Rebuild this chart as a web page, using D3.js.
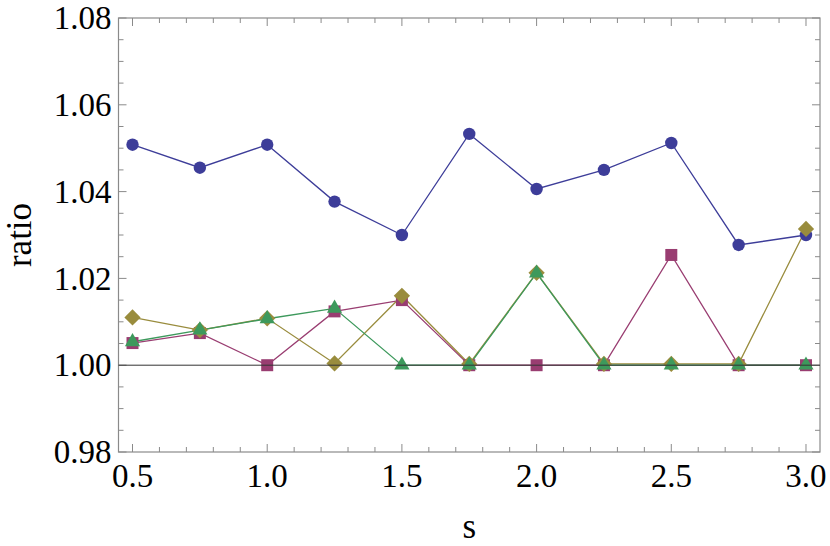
<!DOCTYPE html>
<html>
<head>
<meta charset="utf-8">
<script src="https://cdn.jsdelivr.net/npm/d3@7"></script>
<style>
  body { margin: 0; background: #fff; }
  svg text { font-family: "Liberation Serif", "Times New Roman", Times, "DejaVu Serif", serif; fill: #000; }
</style>
</head>
<body>
<div id="chart"></div>
<script>
// s values (x) and the four ratio series
const sValues = [0.5, 0.75, 1.0, 1.25, 1.5, 1.75, 2.0, 2.25, 2.5, 2.75, 3.0];
const blueRatio    = [1.0508, 1.0455, 1.0508, 1.0377, 1.0300, 1.0533, 1.0406, 1.0450, 1.0512, 1.0277, 1.0300];
const magentaRatio = [1.0051, 1.0074, 1.0000, 1.0124, 1.0150, 1.0000, 1.0000, 1.0000, 1.0254, 1.0000, 1.0000];
const goldRatio    = [1.0110, 1.0081, 1.0108, 1.0004, 1.0160, 1.0003, 1.0213, 1.0003, 1.0003, 1.0003, 1.0314];
const greenRatio   = [1.0054, 1.0081, 1.0107, 1.0131, 1.0000, 1.0000, 1.0212, 1.0000, 1.0000, 1.0000, 1.0000];
const xTicks = [0.5, 1.0, 1.5, 2.0, 2.5, 3.0];
const yTicks = [0.98, 1.00, 1.02, 1.04, 1.06, 1.08];

const series = [
  {values: blueRatio,    color: "#3d3d99", shape: "circle"},
  {values: magentaRatio, color: "#993d71", shape: "square"},
  {values: goldRatio,    color: "#998c3d", shape: "diamond"},
  {values: greenRatio,   color: "#3d995c", shape: "triangle"}
];

const width = 830, height = 546;
const margin = {top: 18, right: 10, bottom: 94, left: 118.5};
const fontFam = "'Liberation Serif', 'Times New Roman', Times, 'DejaVu Serif', serif";

const svg = d3.select("#chart").append("svg")
    .attr("width", width)
    .attr("height", height);

const x = d3.scaleLinear().domain([0.448, 3.052]).range([margin.left, width - margin.right]);
const y = d3.scaleLinear().domain([0.98, 1.08]).range([height - margin.bottom, margin.top]);

const frameColor = "#8a8a8a";
const x0 = x.range()[0], x1 = x.range()[1];
const y0 = y.range()[0], y1 = y.range()[1];

// ticks on all four sides (major + minor)
const ticks = svg.append("g").attr("stroke", frameColor).attr("stroke-width", 1);
const xMinor = d3.range(5, 31).map(d => d / 10).filter(d => !xTicks.some(t => Math.abs(t - d) < 1e-6));
const yMinor = d3.range(196, 217).map(d => d / 200).filter(d => !yTicks.some(t => Math.abs(t - d) < 1e-6));

xTicks.forEach(t => {
  ticks.append("line").attr("x1", x(t)).attr("x2", x(t)).attr("y1", y0).attr("y2", y0 - 8);
  ticks.append("line").attr("x1", x(t)).attr("x2", x(t)).attr("y1", y1).attr("y2", y1 + 8);
});
xMinor.forEach(t => {
  ticks.append("line").attr("x1", x(t)).attr("x2", x(t)).attr("y1", y0).attr("y2", y0 - 5);
  ticks.append("line").attr("x1", x(t)).attr("x2", x(t)).attr("y1", y1).attr("y2", y1 + 5);
});
yTicks.forEach(t => {
  ticks.append("line").attr("x1", x0).attr("x2", x0 + 8).attr("y1", y(t)).attr("y2", y(t));
  ticks.append("line").attr("x1", x1).attr("x2", x1 - 8).attr("y1", y(t)).attr("y2", y(t));
});
yMinor.forEach(t => {
  ticks.append("line").attr("x1", x0).attr("x2", x0 + 5).attr("y1", y(t)).attr("y2", y(t));
  ticks.append("line").attr("x1", x1).attr("x2", x1 - 5).attr("y1", y(t)).attr("y2", y(t));
});

// frame
svg.append("rect")
    .attr("x", x0).attr("y", y1)
    .attr("width", x1 - x0).attr("height", y0 - y1)
    .attr("fill", "none").attr("stroke", frameColor).attr("stroke-width", 1.2);

// tick labels
svg.append("g").selectAll("text")
    .data(xTicks).enter().append("text")
    .attr("x", d => x(d)).attr("y", y0 + 35)
    .attr("text-anchor", "middle")
    .attr("font-family", fontFam)
    .attr("font-size", 33)
    .text(d => d.toFixed(1));

svg.append("g").selectAll("text")
    .data(yTicks).enter().append("text")
    .attr("x", x0 - 7).attr("y", d => y(d))
    .attr("dy", "0.34em")
    .attr("text-anchor", "end")
    .attr("font-family", fontFam)
    .attr("font-size", 33)
    .text(d => d.toFixed(2));

// axis titles
svg.append("text")
    .attr("x", (x0 + x1) / 2).attr("y", 538)
    .attr("text-anchor", "middle").attr("font-size", 35)
    .attr("font-family", fontFam)
    .text("s");
svg.append("text")
    .attr("transform", "translate(31," + ((y0 + y1) / 2) + ") rotate(-90)")
    .attr("text-anchor", "middle").attr("font-size", 35)
    .attr("font-family", fontFam)
    .text("ratio");

// series lines + markers
const line = d3.line().x((d, i) => x(sValues[i])).y(d => y(d));
const symbols = {
  circle:   d3.symbol().type(d3.symbolCircle).size(Math.PI * 6.2 * 6.2),
  square:   d3.symbol().type(d3.symbolSquare).size(12 * 12),
  diamond:  d3.symbol().type(d3.symbolSquare).size(11.5 * 11.5),
  triangle: d3.symbol().type(d3.symbolTriangle).size(100)
};

series.forEach(s => {
  svg.append("path")
      .datum(s.values)
      .attr("d", line)
      .attr("fill", "none")
      .attr("stroke", s.color)
      .attr("stroke-width", 1.3);
});

series.forEach(s => {
  svg.append("g").selectAll("path")
      .data(s.values).enter().append("path")
      .attr("d", symbols[s.shape])
      .attr("transform", (d, i) => "translate(" + x(sValues[i]) + "," + y(d) + ")" + (s.shape === "diamond" ? " rotate(45)" : ""))
      .attr("fill", s.color);
});

// horizontal axis line at 1.00
svg.append("line")
    .attr("x1", x0).attr("x2", x1)
    .attr("y1", y(1.0)).attr("y2", y(1.0))
    .attr("stroke", "#333").attr("stroke-width", 1);
</script>
</body>
</html>
